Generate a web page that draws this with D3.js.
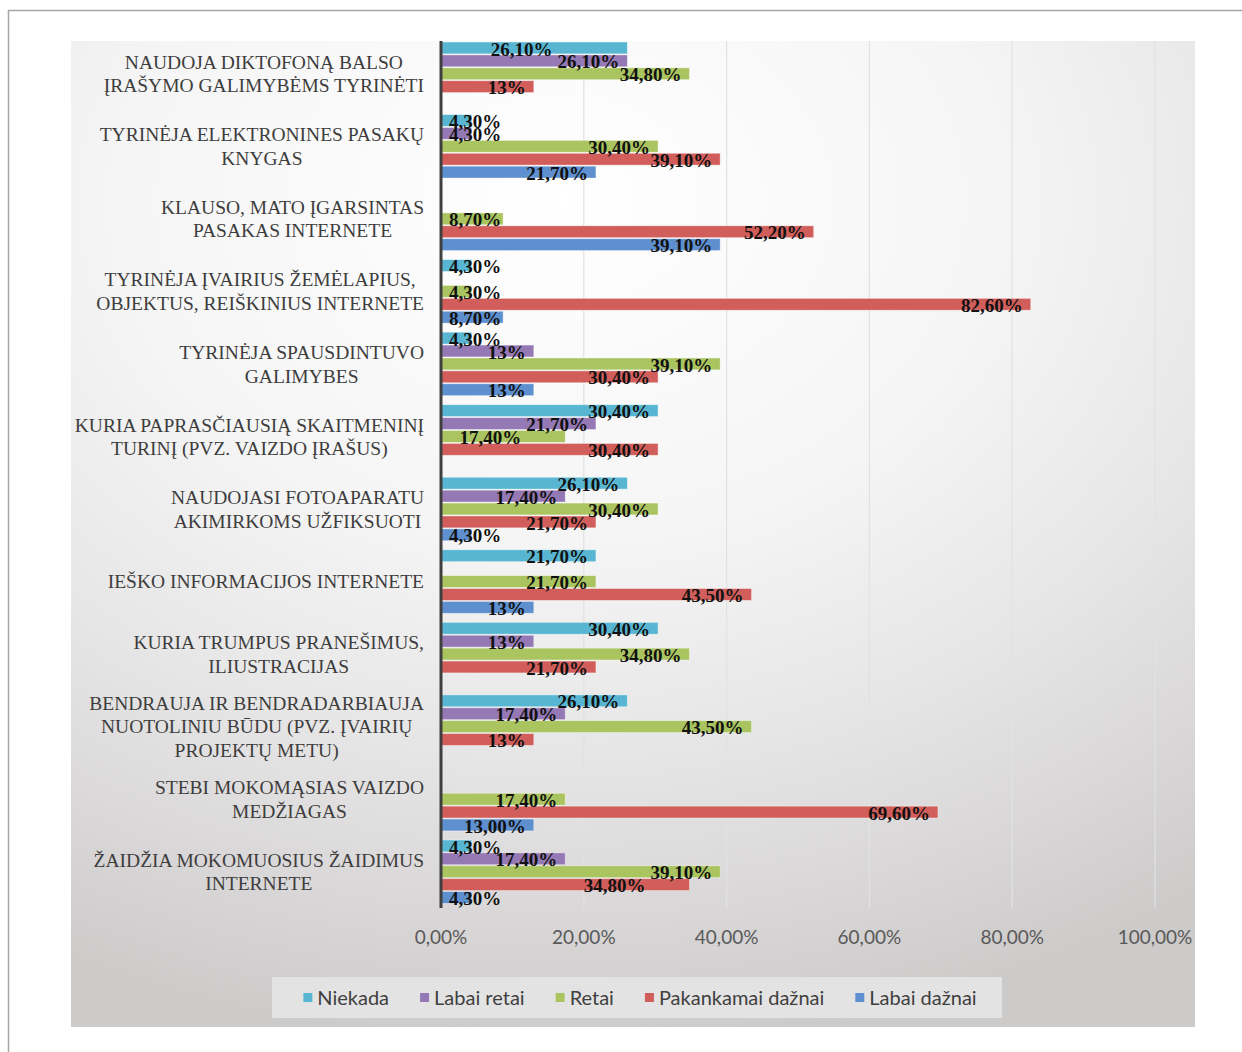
<!DOCTYPE html>
<html>
<head>
<meta charset="utf-8">
<script src="https://cdn.jsdelivr.net/npm/d3@7/dist/d3.min.js"></script>
<style>
    html, body { margin: 0; padding: 0; background: #ffffff; }
    svg { display: block; }
</style>
</head>
<body>
<svg id="chart" width="1242" height="1052"></svg>
<script>
/**
 * Horizontal grouped bar chart
 */
(function () {

    // category labels, already split into lines as in the picture
    var categories = [
        ["NAUDOJA DIKTOFONĄ BALSO", "ĮRAŠYMO GALIMYBĖMS TYRINĖTI"],
        ["TYRINĖJA ELEKTRONINES PASAKŲ", "KNYGAS"],
        ["KLAUSO, MATO ĮGARSINTAS", "PASAKAS INTERNETE"],
        ["TYRINĖJA ĮVAIRIUS ŽEMĖLAPIUS,", "OBJEKTUS, REIŠKINIUS INTERNETE"],
        ["TYRINĖJA SPAUSDINTUVO", "GALIMYBES"],
        ["KURIA PAPRASČIAUSIĄ SKAITMENINĮ", "TURINĮ (PVZ. VAIZDO ĮRAŠUS)"],
        ["NAUDOJASI FOTOAPARATU", "AKIMIRKOMS UŽFIKSUOTI"],
        ["IEŠKO INFORMACIJOS INTERNETE"],
        ["KURIA TRUMPUS PRANEŠIMUS,", "ILIUSTRACIJAS"],
        ["BENDRAUJA IR BENDRADARBIAUJA", "NUOTOLINIU BŪDU (PVZ. ĮVAIRIŲ", "PROJEKTŲ METU)"],
        ["STEBI MOKOMĄSIAS VAIZDO", "MEDŽIAGAS"],
        ["ŽAIDŽIA MOKOMUOSIUS ŽAIDIMUS", "INTERNETE"]
    ];

    var seriesNames = ["Niekada", "Labai retai", "Retai", "Pakankamai dažnai", "Labai dažnai"];

    // values in percent, null = no bar
    var niekada      = [26.1, 4.3, null, 4.3, 4.3, 30.4, 26.1, 21.7, 30.4, 26.1, null, 4.3];
    var labaiRetai   = [26.1, 4.3, null, null, 13, 21.7, 17.4, null, 13, 17.4, null, 17.4];
    var retai        = [34.8, 30.4, 8.7, 4.3, 39.1, 17.4, 30.4, 21.7, 34.8, 43.5, 17.4, 39.1];
    var pakankamai   = [13, 39.1, 52.2, 82.6, 30.4, 30.4, 21.7, 43.5, 21.7, 13, 69.6, 34.8];
    var labaiDaznai  = [null, 21.7, 39.1, 8.7, 13, null, 4.3, 13, null, null, 13, 4.3];

    // label text that differs from the default format
    var labelOverrides = [{ series: 4, category: 10, text: "13,00%" }];

    var xTicks = [0, 0.2, 0.4, 0.6, 0.8, 1.0];

    var colors = ["#58b6d2", "#9579b5", "#aac45f", "#d15e5b", "#5e8fcf"];

    var seriesValues = [niekada, labaiRetai, retai, pakankamai, labaiDaznai];

    var svg = d3.select("#chart");

    // outer frame
    svg.append("line").attr("x1", 8).attr("x2", 1242).attr("y1", 10.5).attr("y2", 10.5)
        .attr("stroke", "#a6a6a6").attr("stroke-width", 1.5);
    svg.append("line").attr("x1", 8.5).attr("x2", 8.5).attr("y1", 10).attr("y2", 1052)
        .attr("stroke", "#a6a6a6").attr("stroke-width", 1.5);

    // background
    var defs = svg.append("defs");
    var grad = defs.append("radialGradient")
        .attr("id", "bg")
        .attr("gradientUnits", "userSpaceOnUse")
        .attr("cx", 0).attr("cy", 0).attr("r", 850)
        .attr("gradientTransform", "translate(560,200) scale(1.3,1)");
    [[0, "#ffffff"], [0.4, "#f5f5f5"], [0.65, "#e7e6e6"], [1, "#cdcaca"]].forEach(function (s) {
        grad.append("stop").attr("offset", s[0]).attr("stop-color", s[1]);
    });

    svg.append("rect")
        .attr("x", 71).attr("y", 41).attr("width", 1124).attr("height", 986)
        .attr("fill", "url(#bg)");

    var x = d3.scaleLinear().domain([0, 1]).range([441, 1155]);

    var y0 = d3.scaleBand()
        .domain(d3.range(categories.length))
        .range([37.5, 908]);

    var y1 = d3.scaleBand()
        .domain(d3.range(seriesNames.length))
        .range([4.5, 4.5 + 5 * 12.7])
        .paddingInner(0.08);

    // gridlines
    svg.append("g")
        .selectAll("line")
        .data(xTicks.slice(1))
        .join("line")
        .attr("x1", function (d) { return x(d); })
        .attr("x2", function (d) { return x(d); })
        .attr("y1", 41).attr("y2", 908)
        .attr("stroke", "#e2e2e2").attr("stroke-width", 1.2);

    // x tick labels
    var fmtTick = d3.format(".2f");
    svg.append("g")
        .selectAll("text")
        .data(xTicks)
        .join("text")
        .attr("x", function (d) { return x(d); })
        .attr("y", 944)
        .attr("text-anchor", "middle")
        .attr("font-family", "Lato, 'Open Sans', sans-serif")
        .attr("font-size", 19)
        .attr("fill", "#595959")
        .text(function (d) { return fmtTick(d * 100).replace(".", ",") + "%"; });

    // flatten bar data
    var bars = [];
    seriesValues.forEach(function (vals, s) {
        vals.forEach(function (v, c) {
            if (v === null) return;
            var txt = (v === Math.round(v)) ? v + "%" : d3.format(".2f")(v).replace(".", ",") + "%";
            labelOverrides.forEach(function (o) {
                if (o.series === s && o.category === c) txt = o.text;
            });
            bars.push({ series: s, category: c, value: v, label: txt });
        });
    });

    var barH = y1.bandwidth();

    svg.append("g")
        .selectAll("rect")
        .data(bars)
        .join("rect")
        .attr("x", x(0))
        .attr("y", function (d) { return y0(d.category) + y1(d.series); })
        .attr("width", function (d) { return x(d.value / 100) - x(0); })
        .attr("height", barH)
        .attr("fill", function (d) { return colors[d.series]; })
        .attr("stroke", "#ffffff").attr("stroke-opacity", 0.5).attr("stroke-width", 0.8);

    // axis line
    svg.append("line")
        .attr("x1", x(0)).attr("x2", x(0))
        .attr("y1", 41).attr("y2", 908)
        .attr("stroke", "#3f3f3f").attr("stroke-width", 3);

    // value labels
    var labels = svg.append("g")
        .selectAll("text")
        .data(bars)
        .join("text")
        .attr("y", function (d) { return y0(d.category) + y1(d.series) + barH / 2 + 1; })
        .attr("dy", "0.35em")
        .attr("font-family", "'Liberation Serif', 'Times New Roman', serif")
        .attr("font-weight", "bold")
        .attr("font-size", 19)
        .attr("fill", "#111111")
        .text(function (d) { return d.label; });

    var minX = x(0) + 8;
    labels.each(function (d) {
        d.w = this.getComputedTextLength();
        d.lx = Math.max(x(d.value / 100) - 8 - d.w, minX);
    });

    // push apart labels of neighbouring bars that collide: the shorter bar's label moves left
    var byCat = d3.group(bars, function (d) { return d.category; });
    byCat.forEach(function (list) {
        list.sort(function (a, b) { return a.series - b.series; });
        for (var pass = 0; pass < 3; ++pass) {
            for (var i = 0; i < list.length - 1; ++i) {
                var a = list[i], b = list[i + 1];
                if (b.series - a.series !== 1) continue;
                var overlap = a.lx < b.lx + b.w && b.lx < a.lx + a.w;
                if (!overlap) continue;
                var mover = a.value <= b.value ? a : b;
                var other = mover === a ? b : a;
                var nx = other.lx - 5 - mover.w;
                if (nx >= minX) mover.lx = nx;
            }
        }
    });

    labels.attr("x", function (d) { return d.lx; });

    // category labels: block right aligned at 424, lines centred in the block
    var catGroup = svg.append("g");
    categories.forEach(function (lines, c) {
        var lineH = 23.5;
        var cy = y0(c) + y0.bandwidth() / 2;
        var top = cy - (lines.length - 1) * lineH / 2;
        var t = catGroup.selectAll(null)
            .data(lines)
            .join("text")
            .attr("y", function (d, i) { return top + i * lineH; })
            .attr("dy", "0.35em")
            .attr("text-anchor", "middle")
            .attr("font-family", "'Liberation Serif', 'Times New Roman', serif")
            .attr("font-size", 19.5)
            .attr("fill", "#3d3d3d")
            .text(function (d) { return d; });
        var maxW = 0;
        t.each(function () { maxW = Math.max(maxW, this.getComputedTextLength()); });
        t.attr("x", 424 - maxW / 2);
    });

    // legend
    svg.append("rect")
        .attr("x", 272).attr("y", 977).attr("width", 730).attr("height", 41)
        .attr("fill", "#e4e3e3");

    var legend = svg.append("g");
    var lx = 0;
    seriesNames.forEach(function (name, i) {
        var g = legend.append("g").attr("transform", "translate(" + lx + ",0)");
        g.append("rect")
            .attr("x", 0).attr("y", -5).attr("width", 9).attr("height", 9)
            .attr("fill", colors[i]);
        var t = g.append("text")
            .attr("x", 14).attr("y", 0).attr("dy", "0.35em")
            .attr("font-family", "Lato, 'Open Sans', sans-serif")
            .attr("font-size", 20)
            .attr("fill", "#404040")
            .text(name);
        lx += 14 + t.node().getComputedTextLength() + 31;
    });
    var legendW = lx - 31;
    legend.attr("transform", "translate(" + (640 - legendW / 2) + ",998)");

})();
</script>
</body>
</html>
